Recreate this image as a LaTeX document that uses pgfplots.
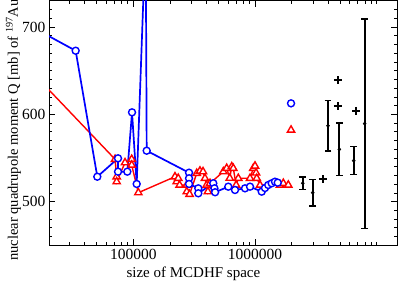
\documentclass[border=0pt]{standalone}
\usepackage{fontspec}
\setmainfont{Liberation Serif}
\usepackage{pgfplots}
\pgfplotsset{compat=1.18}
\begin{document}
\begin{tikzpicture}
\begin{axis}[
  scale only axis, width=348pt, height=244.3pt,
  xmode=log, xmin=20290, xmax=1.468e7, ymin=450, ymax=730,
  xtick={1e5,1e6}, xticklabels={100000,1000000},
  minor xtick={2e4,3e4,4e4,5e4,6e4,7e4,8e4,9e4,2e5,3e5,4e5,5e5,6e5,7e5,8e5,9e5,2e6,3e6,4e6,5e6,6e6,7e6,8e6,9e6,1e7},
  ytick={500,600,700},
  minor ytick={460,470,...,720},
  tick align=inside, major tick length=6pt, minor tick length=3.3pt,
  tick style={black, line width=0.8pt},
  axis line style={line width=1pt},
  ticklabel style={font=\fontsize{15.5}{18}\selectfont},
  /pgf/number format/assume math mode=true,
  xlabel={size of MCDHF space},
  ylabel={nuclear quadrupole moment Q [mb] of \textsuperscript{197}Au},
  xlabel style={font=\fontsize{15}{18}\selectfont, at={(axis description cs:0.415,0)}, anchor=north, inner sep=0pt, yshift=-21.5pt},
  ylabel style={font=\fontsize{14.5}{17}\selectfont, at={(axis description cs:-0.08,0.472)}, anchor=south, inner sep=0pt},
]
% red line
\addplot[red, line width=1.4pt, mark=none] coordinates {
(1e4,673) (70800,548.6) (73000,528.6) (73000,522.9) (85500,544.7) (97000,548.6) (97000,542.0)
(110000,510.3) (220000,528.6) (227000,522.9) (234000,526.8) (240000,519.0) (275000,519.1)
(275000,511.5) (290000,508.5) (332000,532.5) (353000,535.2) (374000,534.4) (388000,526.8)
(400000,519.0) (410000,511.5) (427000,521.0) (549000,534.4) (585000,538.3) (620000,527.0)
(644000,540.1) (663000,538.3) (700000,519.0) (729000,526.8) (910000,526.8) (968000,538.3)
(1000000,540.9) (1020000,533.0) (1033000,526.8) (1100000,519.0) (1605000,519.1)
(1708000,521.1) (1877000,519.1)};
\addplot[only marks, mark=triangle*, mark size=4.2pt, mark options={draw=red, fill=white, line width=1.4pt}] coordinates {
(70800,548.6) (73000,528.6) (73000,522.9) (85500,544.7) (97000,548.6) (97000,542.0)
(110000,510.3) (220000,528.6) (227000,522.9) (234000,526.8) (240000,519.0) (275000,519.1)
(275000,511.5) (290000,508.5) (332000,532.5) (353000,535.2) (374000,534.4) (388000,526.8)
(400000,519.0) (410000,511.5) (427000,521.0) (549000,534.4) (585000,538.3) (620000,527.0)
(644000,540.1) (663000,538.3) (700000,519.0) (729000,526.8) (910000,526.8) (968000,538.3)
(1000000,540.9) (1020000,533.0) (1033000,526.8) (1100000,519.0) (1605000,519.1)
(1708000,521.1) (1877000,519.1)};
% blue line
\addplot[blue, line width=1.7pt, mark=none] coordinates {
(1e4,713) (33600,673) (50600,528.6) (74900,549.7) (74900,534.4) (89300,534.4) (97600,602.4)
(106600,520.3) (126400,807) (128800,558.4) (287000,533.2) (287000,526.8) (287000,520.3)
(342000,515.3) (342000,509.6) (454000,521.1) (464000,515.3) (470000,510.8) (603000,517.2)
(685000,513.4) (828000,515.3) (910000,517.2) (1135000,511.5) (1208000,515.7) (1285000,519.1)
(1371000,521.1) (1459000,522.9) (1537000,521.8)};
\addplot[only marks, mark=*, mark size=3.5pt, mark options={draw=blue, fill=white, line width=1.4pt}] coordinates {
(33600,673) (50600,528.6) (74900,549.7) (74900,534.4) (89300,534.4) (97600,602.4)
(106600,520.3) (128800,558.4) (287000,533.2) (287000,526.8) (287000,520.3)
(342000,515.3) (342000,509.6) (454000,521.1) (464000,515.3) (470000,510.8) (603000,517.2)
(685000,513.4) (828000,515.3) (910000,517.2) (1135000,511.5) (1208000,515.7) (1285000,519.1)
(1371000,521.1) (1459000,522.9) (1537000,521.8)};
% legend-like markers
\addplot[only marks, mark=*, mark size=3.5pt, mark options={draw=blue, fill=white, line width=1.4pt}] coordinates {(1977000,612.7)};
\addplot[only marks, mark=triangle*, mark size=4.2pt, mark options={draw=red, fill=white, line width=1.4pt}] coordinates {(1977000,582.1)};
% error bars
\addplot[black, only marks, mark=*, mark size=1.6pt,
  error bars/.cd, y dir=both, y explicit,
  error bar style={line width=1.8pt, black},
  error mark options={rotate=90, mark size=3.4pt, line width=1.5pt, black}] coordinates {
(2466000,521.1) +- (0,7)
(2978000,510.3) +- (0,15)
(3981000,587.0) +- (0,29)
(4930000,560.0) +- (0,30)
(6470000,547.0) +- (0,16)
(7960000,589.5) +- (0,120)};
% plus marks
\addplot[black, only marks, mark=+, mark size=3.9pt, mark options={line width=2pt}] coordinates {
(3600000,525.7) (4790000,639.4) (4790000,609.6) (6760000,604.2)};
\end{axis}
\pgfresetboundingbox
\path[use as bounding box] ([xshift=-49pt,yshift=-36pt]current axis.south west) rectangle ([xshift=2pt,yshift=1pt]current axis.north east);
\end{tikzpicture}
\end{document}
